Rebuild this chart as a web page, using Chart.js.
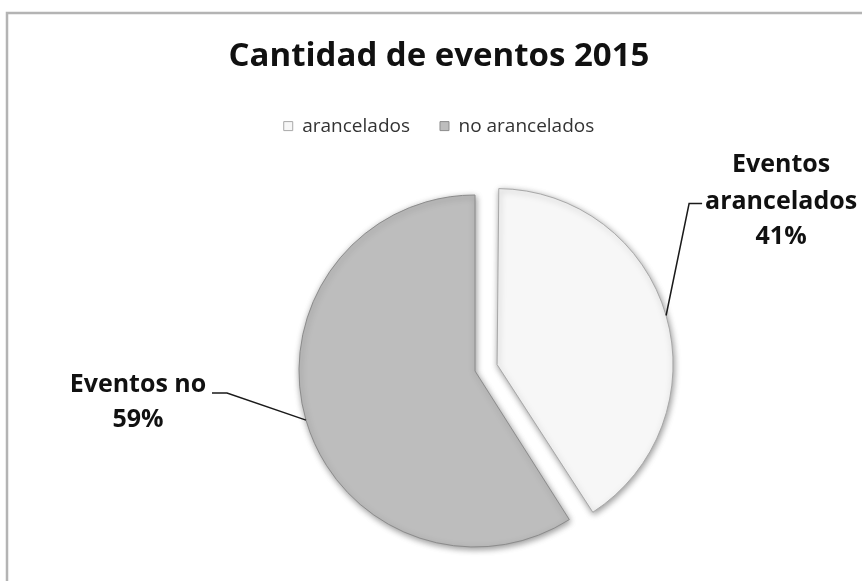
<!DOCTYPE html>
<html>
<head>
<meta charset="utf-8">
<script src="https://cdn.jsdelivr.net/npm/chart.js@4.4.1/dist/chart.umd.min.js"></script>
<style>
  html, body { margin: 0; padding: 0; background: #ffffff; }
  canvas { display: block; }
</style>
</head>
<body>
<canvas id="eventosChart" width="862" height="581"></canvas>
<script>
// data
const chartTitle = 'Cantidad de eventos 2015';
const categories = ['arancelados', 'no arancelados'];
const percentages = [41, 59];
const sliceNames = [['Eventos', 'arancelados'], ['Eventos no']];
const sliceColors = ['#f7f7f7', '#bdbdbd'];

const FONT = "'Open Sans', Lato, sans-serif";

// frame around the picture (runs off to the right and bottom like the original)
const framePlugin = {
  id: 'frame',
  beforeDraw(chart) {
    const ctx = chart.ctx;
    ctx.save();
    ctx.fillStyle = '#ffffff';
    ctx.fillRect(0, 0, chart.width, chart.height);
    ctx.strokeStyle = '#b4b4b4';
    ctx.lineWidth = 2.5;
    ctx.strokeRect(7, 13, chart.width + 20, chart.height + 20);
    ctx.restore();
  }
};

// move the pie centre off the title axis, like the Excel original
const pieCenter = { x: 475, y: 371 };
const centerPlugin = {
  id: 'pieCenter',
  afterLayout(chart) {
    const half = 200;
    chart.chartArea = {
      left: pieCenter.x - half, right: pieCenter.x + half,
      top: pieCenter.y - half, bottom: pieCenter.y + half,
      width: half * 2, height: half * 2
    };
  },
  // chart.js grows an exploded slice a little; keep it the same size as the other one
  afterDatasetsUpdate(chart) {
    chart.getDatasetMeta(0).data.forEach(function(arc) {
      const off = (arc.options.offset || 0) / 4;
      const fix = 1 - Math.sin(Math.min(Math.PI, arc.endAngle - arc.startAngle));
      arc.outerRadius -= off * fix;
    });
  }
};

// soft shadow under the slices
const shadowPlugin = {
  id: 'sliceShadow',
  beforeDatasetsDraw(chart) {
    const ctx = chart.ctx;
    ctx.save();
    ctx.shadowColor = 'rgba(0,0,0,0.4)';
    ctx.shadowBlur = 6;
    ctx.shadowOffsetX = 1;
    ctx.shadowOffsetY = 2;
  },
  afterDatasetsDraw(chart) {
    chart.ctx.restore();
  }
};

// outside labels with leader lines
const labelLayout = [
  { elbow: [23, -112], tail: 13, textDx: 79, lineDy: [-39, -2, 33] },
  { elbow: [-79, -27], tail: -15, textDx: -74, lineDy: [-8, 27] }
];

const labelPlugin = {
  id: 'sliceLabels',
  afterDatasetsDraw(chart) {
    const ctx = chart.ctx;
    const meta = chart.getDatasetMeta(0);
    meta.data.forEach(function(arc, i) {
      const p = arc.getProps(['x', 'y', 'startAngle', 'endAngle', 'outerRadius'], true);
      const mid = (p.startAngle + p.endAngle) / 2;
      const off = (arc.options.offset || 0) / 4;
      const fix = 1 - Math.sin(Math.min(Math.PI, p.endAngle - p.startAngle));
      const r = p.outerRadius + off * fix;
      const ax = p.x + Math.cos(mid) * (off + r);
      const ay = p.y + Math.sin(mid) * (off + r);
      const lay = labelLayout[i];
      const ex = ax + lay.elbow[0];
      const ey = ay + lay.elbow[1];

      ctx.save();
      ctx.strokeStyle = '#1a1a1a';
      ctx.lineWidth = 1.5;
      ctx.beginPath();
      ctx.moveTo(ax, ay);
      ctx.lineTo(ex, ey);
      ctx.lineTo(ex + lay.tail, ey);
      ctx.stroke();

      const lines = sliceNames[i].concat([percentages[i] + '%']);
      ctx.fillStyle = '#111111';
      ctx.font = 'bold 25px ' + FONT;
      ctx.textAlign = 'center';
      ctx.textBaseline = 'middle';
      const tx = ex + lay.tail + lay.textDx;
      lines.forEach(function(t, k) {
        ctx.fillText(t, tx, ey + lay.lineDy[k]);
      });
      ctx.restore();
    });
  }
};

new Chart(document.getElementById('eventosChart'), {
  type: 'pie',
  data: {
    labels: categories,
    datasets: [{
      data: percentages,
      backgroundColor: sliceColors,
      borderColor: ['#a8a8a8', '#8c8c8c'],
      borderWidth: 1,
      offset: [92, 0],
      radius: 176
    }]
  },
  options: {
    responsive: false,
    animation: false,
    layout: { padding: { left: 16, right: 0, top: 0, bottom: 0 } },
    plugins: {
      title: {
        display: true,
        text: chartTitle,
        color: '#111111',
        font: { family: FONT, size: 33, weight: 'bold' },
        padding: { top: 37, bottom: 10 }
      },
      legend: {
        display: true,
        position: 'top',
        labels: {
          color: '#333333',
          font: { family: FONT, size: 19 },
          boxWidth: 9,
          boxHeight: 9,
          padding: 30
        }
      },
      tooltip: { enabled: false }
    }
  },
  plugins: [framePlugin, centerPlugin, shadowPlugin, labelPlugin]
});
</script>
</body>
</html>
